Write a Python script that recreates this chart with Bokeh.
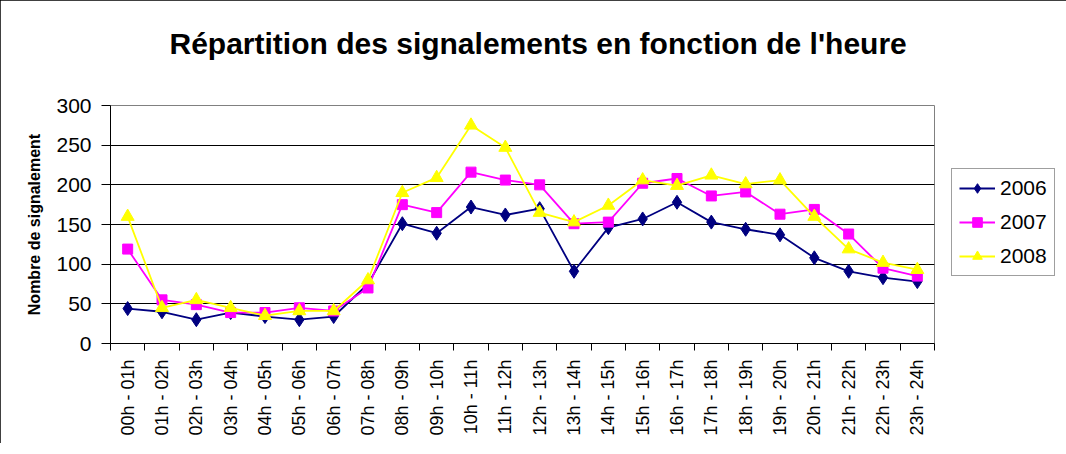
import math
from bokeh.plotting import figure
from bokeh.models import FixedTicker, Legend, LegendItem, Range1d
from bokeh.embed import file_html
from bokeh.resources import INLINE

hours = ["00h - 01h", "01h - 02h", "02h - 03h", "03h - 04h", "04h - 05h", "05h - 06h",
         "06h - 07h", "07h - 08h", "08h - 09h", "09h - 10h", "10h - 11h", "11h - 12h",
         "12h - 13h", "13h - 14h", "14h - 15h", "15h - 16h", "16h - 17h", "17h - 18h",
         "18h - 19h", "19h - 20h", "20h - 21h", "21h - 22h", "22h - 23h", "23h - 24h"]
v2006 = [44, 40, 30, 39, 34, 30, 34, 75, 151, 139, 172, 162, 170, 91, 146, 157, 178, 153, 144, 137, 108, 91, 83, 78]
v2007 = [119, 55, 49, 39, 39, 45, 41, 70, 175, 165, 216, 206, 200, 151, 153, 202, 208, 186, 191, 163, 169, 138, 95, 85]
v2008 = [160, 45, 55, 45, 35, 41, 41, 80, 190, 209, 275, 247, 165, 153, 174, 206, 199, 212, 201, 206, 160, 119, 102, 93]
yticks = [0, 50, 100, 150, 200, 250, 300]
title_text = "Répartition des signalements en fonction de l'heure"

xs = [i + 0.5 for i in range(len(hours))]
FONT = "Liberation Sans"

p = figure(frame_width=824, frame_height=238, output_backend="svg", toolbar_location=None,
           x_range=Range1d(0, len(hours)), y_range=Range1d(0, 300),
           min_border_left=110, min_border_right=4, min_border_top=105, min_border_bottom=100)

# trailing empty line keeps the title high above the frame
p.title.text = title_text + "\n"
p.title.text_font = FONT
p.title.text_font_size = "30px"
p.title.text_font_style = "bold"
p.title.text_color = "black"
p.title.align = "left"
p.title.offset = 59
p.title.standoff = 26

p.outline_line_color = "#808080"
p.background_fill_color = "white"
p.border_fill_color = "white"
p.styles = {"outline": "2px solid black", "outline-offset": "-2px"}

p.xgrid.visible = False
p.ygrid.grid_line_color = "black"
p.ygrid.grid_line_width = 1
p.ygrid.ticker = FixedTicker(ticks=yticks)

# x axis
p.xaxis.ticker = FixedTicker(ticks=xs, minor_ticks=list(range(len(hours) + 1)))
p.xaxis.major_label_overrides = {x: h for x, h in zip(xs, hours)}
p.xaxis.major_tick_line_color = None
p.xaxis.minor_tick_line_color = "black"
p.xaxis.minor_tick_in = 0
p.xaxis.minor_tick_out = 7
p.xaxis.major_label_orientation = math.pi / 2
p.xaxis.major_label_text_font = FONT
p.xaxis.major_label_text_font_size = "18px"
p.xaxis.major_label_text_color = "black"
p.xaxis.major_label_standoff = 9
p.xaxis.axis_line_color = "black"

# y axis
p.yaxis.ticker = FixedTicker(ticks=yticks)
p.yaxis.major_tick_in = 0
p.yaxis.major_tick_out = 9
p.yaxis.major_tick_line_color = "black"
p.yaxis.minor_tick_line_color = None
p.yaxis.major_label_text_font = FONT
p.yaxis.major_label_text_font_size = "21px"
p.yaxis.major_label_text_color = "black"
p.yaxis.major_label_standoff = 10
p.yaxis.axis_line_color = "black"
p.yaxis.axis_label = "Nombre de signalement"
p.yaxis.axis_label_text_font = FONT
p.yaxis.axis_label_text_font_size = "16px"
p.yaxis.axis_label_text_font_style = "bold"
p.yaxis.axis_label_text_color = "black"
p.yaxis.axis_label_standoff = 10

series = [
    ("2006", v2006, "#000080", "diamond", 14),
    ("2007", v2007, "#FF00FF", "square", 10),
    ("2008", v2008, "#FFFF00", "triangle", 13),
]
items = []
for label, vals, color, marker, size in series:
    ln = p.line(xs, vals, line_color=color, line_width=1.8)
    sc = p.scatter(xs, vals, marker=marker, size=size, fill_color=color, line_color=color)
    items.append(LegendItem(label=label, renderers=[ln, sc]))

legend = Legend(items=items, location=(17, 67))
legend.margin = 0
legend.padding = 7
legend.spacing = 10
legend.glyph_width = 36
legend.glyph_height = 24
legend.label_standoff = 5
legend.label_text_font = FONT
legend.label_text_font_size = "21px"
legend.label_text_color = "black"
legend.border_line_color = "#404040"
legend.border_line_width = 1
legend.background_fill_color = "white"
p.add_layout(legend, "right")

open("out.html", "w").write(file_html(p, INLINE))
